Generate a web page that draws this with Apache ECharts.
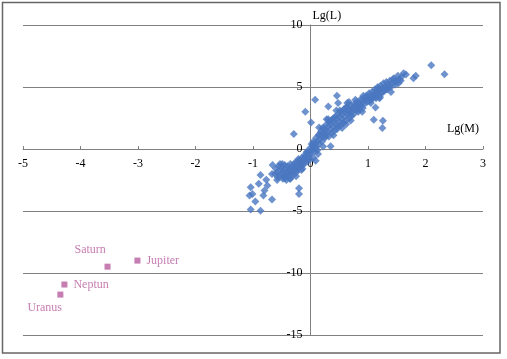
<!DOCTYPE html>
<html>
<head>
<meta charset="utf-8">
<script src="https://cdn.jsdelivr.net/npm/echarts@6/dist/echarts.min.js"></script>
<style>html,body{margin:0;padding:0;background:#fff}#c{width:507px;height:359px}</style>
</head>
<body>
<div id="c"></div>
<script>
// Stars: [lg(M), lg(L)]
var starsX = [
 -0.60,-0.58,-0.55,-0.55,-0.52,-0.50,-0.50,-0.48,-0.47,-0.45,-0.45,-0.43,-0.42,-0.40,-0.40,-0.38,-0.37,-0.35,-0.35,-0.33,
 -0.32,-0.30,-0.30,-0.28,-0.27,-0.25,-0.25,-0.23,-0.22,-0.20,-0.20,-0.18,-0.17,-0.15,-0.15,-0.13,-0.12,-0.10,-0.10,-0.08,
 -0.07,-0.05,-0.05,-0.03,-0.02,0.00,0.00,0.02,0.03,0.05,0.05,0.07,0.08,0.10,0.10,0.12,0.13,0.14,0.15,0.17,
 0.18,0.20,0.20,0.22,0.23,0.25,0.25,0.27,0.28,0.30,0.30,0.32,0.33,0.35,0.35,0.37,0.38,0.40,0.40,0.42,
 0.43,0.45,0.45,0.47,0.48,0.50,0.50,0.52,0.53,0.55,0.55,0.57,0.58,0.60,0.60,0.62,0.63,0.65,0.67,0.68,
 0.70,0.72,0.73,0.75,0.77,0.78,0.80,0.82,0.83,0.85,0.87,0.88,0.90,0.92,0.93,0.95,0.97,0.98,1.00,1.02,
 1.03,1.05,1.07,1.08,1.10,1.12,1.13,1.15,1.17,1.18,1.20,1.22,1.23,1.25,1.27,1.28,1.30,1.32,1.33,1.35,
 1.38,1.40,1.42,1.45,1.48,1.50,1.52,1.55,1.58,1.62,1.66,
 2.10,2.33,1.83,1.79,1.13,1.10,1.26,1.25,0.96,0.78,0.67,0.46,0.48,0.31,0.08,-0.09,0.01,-0.29,0.15,0.35,
 0.09,-0.20,-0.20,-0.87,-0.67,-0.77,-0.90,-0.75,-0.80,-1.04,-1.01,-1.06,-0.96,-0.82,-0.67,-1.04,-0.87,
 0.55,0.70,0.90,0.62,0.12,-0.14,-0.36,-0.58,-0.66,0.05,0.22,0.40,1.05,1.20,1.40,0.85,
 -0.62,-0.57,-0.53,-0.49,-0.44,-0.41,-0.36,-0.31,-0.26,-0.21,-0.16,-0.11,-0.06,-0.01,0.04,0.09,0.16,0.21,0.26,0.31,
 0.36,0.41,0.46,0.51,0.56,0.61,0.66,0.71,0.76,0.81,0.86,0.91,0.96,1.01,1.06,1.11,1.16,1.21,1.26,1.31,
 1.36,1.43,1.47,1.53,1.57,-0.45,-0.35,-0.25,0.28,0.45,0.64,0.92,1.14
];
var starsY = [
 -1.60,-1.90,-1.40,-2.20,-1.75,-2.00,-1.50,-2.40,-1.80,-1.30,-2.10,-1.60,-2.50,-1.90,-1.40,-2.20,-1.70,-1.20,-2.00,-1.50,
 -1.85,-1.30,-2.10,-1.60,-1.10,-1.40,-1.90,-1.00,-1.70,-1.20,-1.50,-0.90,-1.40,-1.10,-0.70,-1.30,-0.90,-0.50,-1.10,-0.80,
 -0.30,-0.60,-1.00,-0.20,-0.50,0.10,-0.30,0.40,-0.10,0.20,0.60,-0.20,0.50,0.90,0.20,0.60,-0.40,1.10,0.40,0.80,
 1.40,0.60,1.00,1.30,1.70,0.90,1.50,1.20,2.00,1.40,1.80,1.00,2.20,1.60,2.00,1.30,2.40,1.80,2.20,1.50,
 2.60,2.00,2.40,1.80,2.80,2.20,2.60,1.90,3.00,2.40,2.80,2.10,3.20,2.60,3.00,2.30,3.40,2.80,3.10,2.50,
 3.50,3.00,3.30,2.80,3.60,3.20,3.80,3.40,3.00,3.70,4.00,3.50,3.80,4.10,3.60,4.00,4.30,3.80,4.20,4.50,
 3.90,4.30,4.60,4.10,4.40,4.80,4.20,4.60,5.00,4.40,4.80,5.10,4.50,4.90,5.30,4.70,5.00,5.40,4.80,5.20,
 5.50,5.00,5.30,5.70,5.20,5.50,5.90,5.60,5.80,6.10,6.00,
 6.75,6.03,5.90,5.70,3.35,2.36,2.28,1.69,4.02,3.97,3.80,4.29,3.70,3.43,3.97,3.00,2.14,1.20,1.74,0.22,
 -0.94,-3.16,-3.62,-2.09,-2.01,-2.47,-2.81,-2.95,-3.35,-3.08,-3.62,-3.75,-4.23,-3.75,-4.07,-4.88,-4.98,
 1.70,2.30,3.00,2.00,-0.10,-1.60,-2.40,-2.50,-1.30,-0.70,0.20,1.10,3.70,4.10,4.60,3.20,
 -2.00,-2.30,-1.20,-1.20,-2.30,-2.10,-1.60,-1.80,-1.70,-0.80,-1.70,-0.70,-0.20,-0.80,0.30,0.00,1.20,1.70,1.00,2.40,
 2.30,2.50,1.60,3.10,2.10,3.30,3.00,2.70,3.40,3.10,3.50,3.30,4.10,3.90,4.00,4.40,4.80,4.20,4.60,4.80,
 5.00,5.60,5.40,5.30,5.50,-2.35,-2.40,-2.20,2.40,3.10,3.70,4.30,4.10
];
var planetNames = ['Jupiter','Saturn','Neptun','Uranus'];
var planetX = [-3.01,-3.53,-4.28,-4.35];
var planetY = [-9.00,-9.49,-10.93,-11.74];
var xTicks = [-5,-4,-3,-2,-1,0,1,2,3];
var yTicks = [-15,-10,-5,0,5,10];

var starData = starsX.map(function(x,i){return [x, starsY[i]];});
var labelPos = {Jupiter:'right', Saturn:[-30,-20], Neptun:'right', Uranus:[-30,10]};
var planetData = planetNames.map(function(n,i){
  return {name:n, value:[planetX[i], planetY[i]], label:{position:labelPos[n]}};
});

var W = 507, H = 359;
var G = {left:23, right:24, top:25, bottom:24};
var xMin = xTicks[0], xMax = xTicks[xTicks.length-1];
var yMin = yTicks[0], yMax = yTicks[yTicks.length-1];
var gw = W - G.left - G.right, gh = H - G.top - G.bottom;
// move axes to cross at zero
var yAxisOffset = -gw * (0 - xMin) / (xMax - xMin);
var xAxisOffset = -gh * (0 - yMin) / (yMax - yMin);

var font = 'Liberation Serif';
var chart = echarts.init(document.getElementById('c'), null, {renderer:'canvas'});
chart.setOption({
  animation:false,
  backgroundColor:'#fff',
  grid:{left:G.left,right:G.right,top:G.top,bottom:G.bottom,containLabel:false},
  xAxis:{
    type:'value', min:xMin, max:xMax, interval:1, position:'bottom', offset:xAxisOffset,
    name:'Lg(M)', nameLocation:'end', nameGap:-36,
    nameTextStyle:{fontFamily:font,fontSize:12,color:'#000',align:'left',verticalAlign:'bottom',padding:[0,0,14,0]},
    axisLine:{onZero:false,lineStyle:{color:'#808080',width:1}},
    axisTick:{show:true,inside:true,length:3,lineStyle:{color:'#808080'}},
    axisLabel:{fontFamily:font,fontSize:12,color:'#000',margin:9},
    splitLine:{show:false}
  },
  yAxis:{
    type:'value', min:yMin, max:yMax, interval:5, position:'left', offset:yAxisOffset,
    name:'Lg(L)', nameLocation:'end', nameGap:3,
    nameTextStyle:{fontFamily:font,fontSize:12,color:'#000',align:'left',verticalAlign:'bottom',padding:[0,0,0,2]},
    axisLine:{onZero:false,lineStyle:{color:'#808080',width:1}},
    axisTick:{show:true,inside:false,length:3,lineStyle:{color:'#808080'}},
    axisLabel:{fontFamily:font,fontSize:12,color:'#000',margin:8},
    splitLine:{show:true,lineStyle:{color:'#808080',width:1}}
  },
  series:[
    {type:'scatter', data:starData, symbol:'diamond', symbolSize:8,
     itemStyle:{color:'#4a77c0'}, z:3},
    {type:'scatter', data:planetData, symbol:'rect', symbolSize:6,
     itemStyle:{color:'#b85c9e'},
     label:{show:true, formatter:'{b}', fontFamily:font, fontSize:12, color:'#b85c9e', distance:6}, z:4}
  ],
  graphic:[
    {type:'rect', shape:{x:2.5,y:2.5,width:497.5,height:350.5}, style:{fill:null,stroke:'#666',lineWidth:1.5}, silent:true}
  ]
});
</script>
</body>
</html>
